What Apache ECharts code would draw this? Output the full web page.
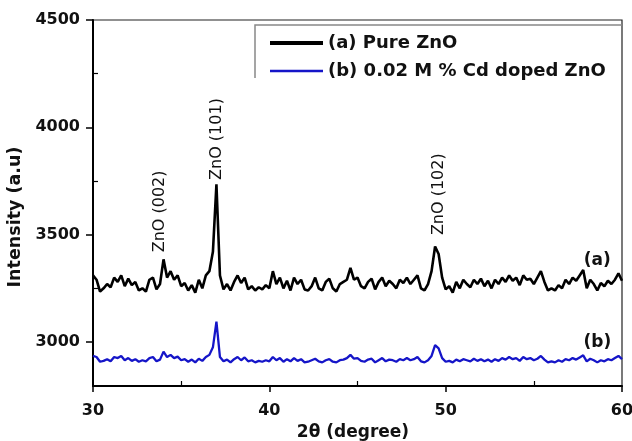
<!DOCTYPE html>
<html lang="en">
<head>
<meta charset="UTF-8">
<title>XRD ZnO</title>
<script src="https://cdn.jsdelivr.net/npm/echarts@6/dist/echarts.min.js"></script>
<style>
  html, body { margin: 0; padding: 0; background: #fff; }
  #chart { width: 632px; height: 441px; }
</style>
</head>
<body>
<div id="chart"></div>
<script>
// 2theta sampling grid: 30 .. 60 deg, every 0.2 deg
const thetaStart = 30;
const thetaStep = 0.2;

// (a) pure ZnO
const pureZnO = [
  3310, 3290, 3235, 3250, 3270, 3255, 3300, 3280, 3310, 3260,
  3295, 3265, 3280, 3240, 3250, 3235, 3290, 3300, 3245, 3270,
  3385, 3300, 3330, 3290, 3310, 3260, 3275, 3240, 3265, 3230,
  3290, 3250, 3310, 3330, 3420, 3735, 3310, 3245, 3270, 3240,
  3280, 3310, 3275, 3300, 3245, 3260, 3240, 3255, 3245, 3265,
  3250, 3330, 3270, 3300, 3250, 3285, 3240, 3300, 3270, 3290,
  3245, 3240, 3260, 3300, 3250, 3240, 3280, 3295, 3250, 3235,
  3270, 3280, 3290, 3345, 3290, 3300, 3260, 3250, 3280, 3295,
  3245, 3280, 3300, 3260, 3285, 3270, 3250, 3290, 3275, 3300,
  3270, 3290, 3310, 3250, 3240, 3270, 3330, 3445, 3410, 3300,
  3245, 3260, 3230, 3280, 3250, 3290, 3270, 3255, 3290, 3270,
  3295, 3260, 3285, 3250, 3290, 3270, 3300, 3280, 3310, 3285,
  3300, 3265, 3310, 3290, 3295, 3270, 3300, 3330, 3280, 3240,
  3250, 3240, 3265, 3250, 3290, 3270, 3300, 3285, 3310, 3335,
  3250, 3290, 3270, 3240, 3275, 3260, 3285, 3270, 3290, 3320,
  3285
];

// (b) 0.02 M % Cd doped ZnO
const cdDoped = [
  2935, 2930, 2908, 2912, 2920, 2910, 2930, 2925, 2935, 2915,
  2925, 2912, 2920, 2908, 2915, 2910, 2925, 2930, 2910, 2918,
  2955, 2930, 2940, 2925, 2932, 2915, 2920, 2908, 2918, 2905,
  2922, 2912, 2930, 2940, 2975, 3095, 2930, 2910, 2918, 2905,
  2920, 2930, 2915, 2928, 2910, 2915, 2905, 2912, 2908, 2915,
  2910, 2930, 2915, 2925, 2908, 2920, 2910, 2925, 2912, 2920,
  2905, 2908, 2915, 2922, 2910, 2905, 2915, 2920, 2908, 2905,
  2915, 2918, 2925, 2940, 2922, 2925, 2912, 2908, 2918, 2922,
  2905, 2915, 2925, 2910, 2918, 2915, 2908, 2920, 2915, 2925,
  2915, 2920, 2930, 2910, 2905, 2915, 2935, 2985, 2970, 2925,
  2908, 2912, 2905, 2918, 2910, 2920, 2915, 2910, 2922, 2912,
  2920, 2910, 2918, 2908, 2920, 2912, 2925, 2918, 2930, 2920,
  2925, 2912, 2930, 2920, 2925, 2915, 2922, 2935, 2918, 2905,
  2910, 2905, 2915, 2908, 2920, 2915, 2925, 2918, 2928, 2938,
  2910, 2922, 2915, 2905, 2915, 2910, 2920, 2915, 2925, 2935,
  2920
];

const seriesNames = ['(a) Pure ZnO', '(b) 0.02 M % Cd doped ZnO'];
const xTicks = [30, 40, 50, 60];
const xMinorTicks = [35, 45, 55];
const yTicks = [3000, 3500, 4000, 4500];
const yMinorTicks = [3250, 3750, 4250];

// peak labels (text, [2theta, intensity] of the text's lower end)
const peakNotes = ['ZnO (002)', 'ZnO (101)', 'ZnO (102)'];
const peakNoteAt = [[33.8, 3418], [37.0, 3755], [49.6, 3498]];
const curveTags = ['(a)', '(b)'];
const curveTagAt = [[58.6, 3381], [58.6, 2995]];

const toPairs = arr => arr.map((v, i) => [+(thetaStart + i * thetaStep).toFixed(2), v]);

const chart = echarts.init(document.getElementById('chart'));
const boldFont = { fontFamily: 'DejaVu Sans', fontWeight: 'bold', color: '#111' };

chart.setOption({
  animation: false,
  backgroundColor: '#fff',
  grid: {
    left: 93, top: 20, width: 529, height: 366,
    outerBoundsMode: 'none', containLabel: false,
    show: true, borderColor: '#222', borderWidth: 1.2, backgroundColor: 'transparent'
  },
  legend: {
    left: 263, top: 29,
    orient: 'vertical',
    itemWidth: 53, itemHeight: 18, itemGap: 10,
    itemStyle: { opacity: 0 },
    textStyle: Object.assign({ fontSize: 18, lineHeight: 18 }, boldFont),
    data: [
      { name: seriesNames[0], lineStyle: { width: 4, color: '#000' }, itemStyle: { opacity: 0 } },
      { name: seriesNames[1], lineStyle: { width: 2.5, color: '#1515c8' }, itemStyle: { opacity: 0 } }
    ]
  },
  xAxis: [{
    type: 'value', min: 30, max: 60,
    name: '2\u03b8 (degree)', nameLocation: 'middle', nameGap: 37,
    nameTextStyle: Object.assign({ fontSize: 17, padding: [0, 9, 0, 0] }, boldFont),
    axisLine: { lineStyle: { color: '#000', width: 2 } },
    axisTick: { customValues: xTicks, length: 6, lineStyle: { color: '#000', width: 1.5 } },
    axisLabel: Object.assign({ customValues: xTicks, fontSize: 16, margin: 17 }, boldFont),
    splitLine: { show: false }
  }, {
    type: 'value', min: 30, max: 60, position: 'bottom',
    axisLine: { show: false },
    axisTick: { inside: true, customValues: xMinorTicks, length: 5, lineStyle: { color: '#000', width: 1.2 } },
    axisLabel: { show: false },
    splitLine: { show: false }
  }],
  yAxis: [{
    type: 'value', min: 2795, max: 4500,
    name: 'Intensity (a.u)', nameLocation: 'middle', nameGap: 61, nameRotate: 90,
    nameTextStyle: Object.assign({ fontSize: 17.5, padding: [0, 28, 0, 0] }, boldFont),
    axisLine: { lineStyle: { color: '#000', width: 2 } },
    axisTick: { customValues: yTicks, length: 7, lineStyle: { color: '#000', width: 1.5 } },
    axisLabel: Object.assign({ customValues: yTicks, fontSize: 16, margin: 13, formatter: v => String(v) }, boldFont),
    splitLine: { show: false }
  }, {
    type: 'value', min: 2795, max: 4500, position: 'left',
    axisLine: { show: false },
    axisTick: { inside: true, customValues: yMinorTicks, length: 5, lineStyle: { color: '#000', width: 1.2 } },
    axisLabel: { show: false },
    splitLine: { show: false }
  }],
  series: [{
    name: seriesNames[0], type: 'line', symbol: 'none',
    xAxisIndex: 0, yAxisIndex: 0,
    lineStyle: { color: '#000', width: 2.6 },
    itemStyle: { color: '#000' },
    data: toPairs(pureZnO)
  }, {
    name: seriesNames[1], type: 'line', symbol: 'none',
    xAxisIndex: 0, yAxisIndex: 0,
    lineStyle: { color: '#1515c8', width: 2.3 },
    itemStyle: { color: '#1515c8' },
    data: toPairs(cdDoped)
  }]
});

// labels placed through the chart's own coordinate conversion
const notes = [];
peakNotes.forEach((t, i) => {
  const p = chart.convertToPixel({ gridIndex: 0 }, peakNoteAt[i]);
  notes.push({
    type: 'text', x: p[0], y: p[1], rotation: Math.PI / 2,
    style: { text: t, fontFamily: 'DejaVu Sans', fontSize: 16, fill: '#111', align: 'left', verticalAlign: 'middle' }
  });
});
curveTags.forEach((t, i) => {
  const p = chart.convertToPixel({ gridIndex: 0 }, curveTagAt[i]);
  notes.push({
    type: 'text', x: p[0], y: p[1],
    style: { text: t, fontFamily: 'DejaVu Sans', fontWeight: 'bold', fontSize: 17, fill: '#111', align: 'center', verticalAlign: 'middle' }
  });
});
// legend frame (top and left edges only)
notes.push({
  type: 'polyline', silent: true,
  shape: { points: [[255, 78], [255, 25], [622, 25]] },
  style: { stroke: '#888', lineWidth: 1.5, fill: null }
});
chart.setOption({ graphic: notes });
</script>
</body>
</html>
